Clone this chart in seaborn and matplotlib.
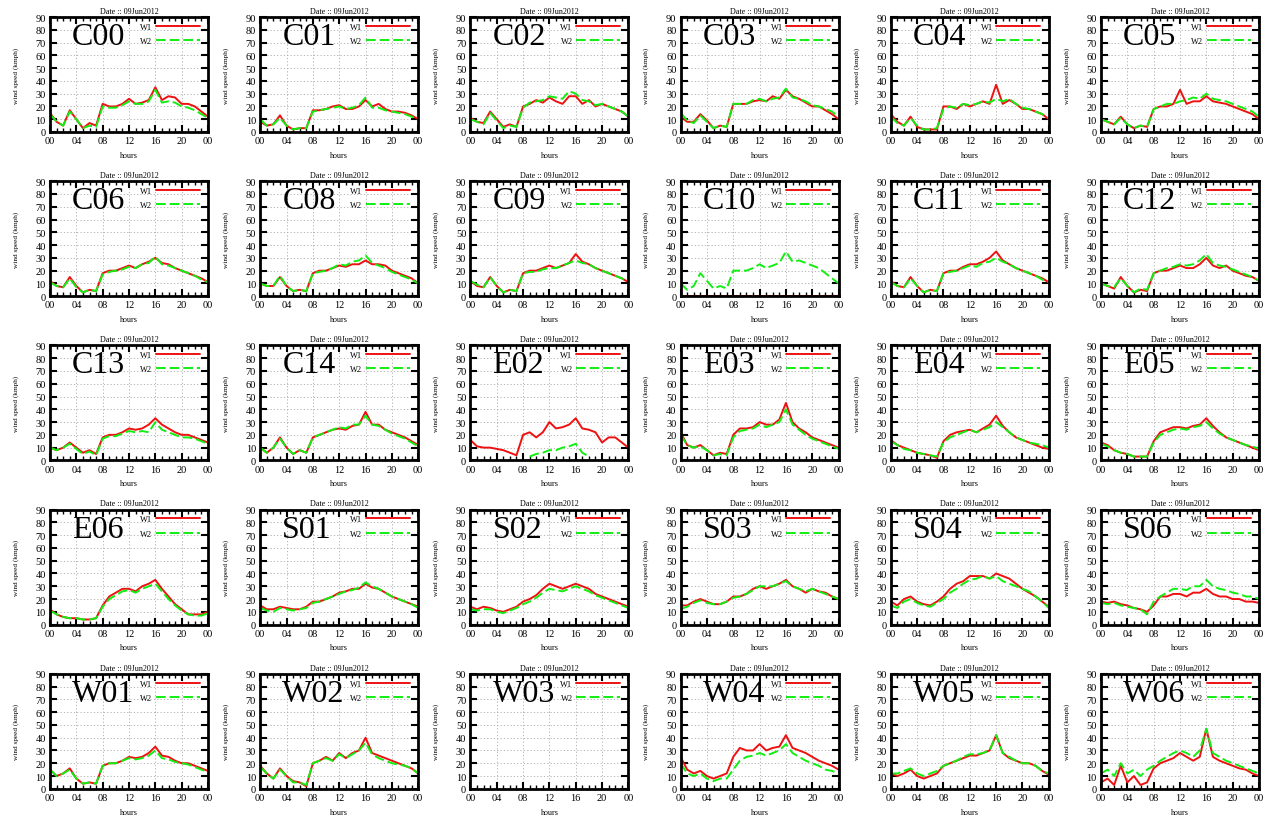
import numpy as np
import pandas as pd
import matplotlib
matplotlib.use("Agg")
import matplotlib.pyplot as plt
import seaborn as sns

hours = list(range(25))
xtick_pos = [0, 4, 8, 12, 16, 20, 24]
xtick_labels = ["00", "04", "08", "12", "16", "20", "00"]
ytick_pos = [0, 10, 20, 30, 40, 50, 60, 70, 80, 90]
date_title = "Date :: 09Jun2012"
stations = ["C00", "C01", "C02", "C03", "C04", "C05",
            "C06", "C08", "C09", "C10", "C11", "C12",
            "C13", "C14", "E02", "E03", "E04", "E05",
            "E06", "S01", "S02", "S03", "S04", "S06",
            "W01", "W02", "W03", "W04", "W05", "W06"]
nan = float("nan")

w1 = {
    "C00": [15, 8, 5, 17, 10, 3, 7, 5, 22, 20, 20, 22, 26, 22, 23, 25, 35, 25, 28, 27, 22, 22, 20, 16, 12],
    "C01": [8, 5, 6, 13, 5, 2, 3, 3, 17, 17, 18, 20, 21, 18, 18, 20, 25, 20, 22, 18, 16, 16, 15, 13, 10],
    "C02": [11, 8, 7, 16, 10, 4, 6, 4, 20, 22, 25, 23, 27, 24, 22, 28, 28, 22, 25, 20, 22, 20, 18, 16, 12],
    "C03": [12, 8, 8, 14, 9, 3, 5, 4, 22, 22, 22, 24, 25, 24, 28, 26, 33, 28, 26, 23, 20, 20, 17, 14, 10],
    "C04": [14, 8, 5, 12, 4, 2, 2, 2, 20, 20, 18, 22, 20, 22, 24, 22, 37, 22, 25, 22, 18, 18, 16, 14, 10],
    "C05": [10, 8, 6, 12, 6, 3, 5, 4, 18, 20, 20, 22, 33, 22, 24, 24, 28, 24, 23, 22, 20, 18, 16, 14, 10],
    "C06": [12, 8, 7, 15, 8, 3, 5, 4, 18, 20, 20, 22, 24, 22, 25, 27, 30, 26, 25, 22, 20, 18, 16, 14, 11],
    "C08": [10, 8, 8, 15, 8, 4, 5, 4, 18, 20, 20, 22, 24, 23, 25, 25, 28, 25, 25, 24, 20, 18, 16, 14, 10],
    "C09": [12, 8, 7, 15, 8, 3, 5, 4, 18, 20, 20, 22, 24, 22, 24, 26, 33, 27, 25, 22, 20, 18, 16, 14, 11],
    "C10": [0.5, 0.5, 0.5, 0.5, 0.5, 0.5, 0.5, 0.5, 0.5, 0.5, 0.5, 0.5, 0.5, 0.5, 0.5, 0.5, 0.5, 0.5, 0.5, 0.5, 0.5, 0.5, 0.5, 0.5, 0.5],
    "C11": [12, 8, 7, 15, 8, 3, 5, 4, 18, 20, 20, 23, 25, 25, 27, 30, 35, 28, 25, 22, 20, 18, 16, 14, 11],
    "C12": [10, 8, 6, 15, 8, 3, 5, 4, 18, 20, 20, 22, 24, 22, 22, 25, 30, 24, 22, 24, 20, 18, 16, 15, 12],
    "C13": [10, 8, 10, 14, 10, 6, 8, 5, 18, 20, 20, 22, 25, 24, 25, 28, 33, 28, 25, 22, 20, 20, 18, 16, 14],
    "C14": [10, 6, 10, 18, 10, 5, 8, 6, 18, 20, 22, 24, 25, 24, 27, 28, 38, 28, 28, 24, 22, 20, 18, 15, 12],
    "E02": [16, 11, 10, 10, 9, 8, 6, 4, 20, 22, 18, 22, 30, 25, 26, 28, 33, 25, 24, 22, 14, 18, 18, 14, 10],
    "E03": [22, 12, 10, 12, 8, 4, 6, 5, 20, 25, 25, 26, 30, 28, 28, 32, 45, 30, 25, 22, 18, 16, 14, 12, 10],
    "E04": [16, 12, 10, 8, 6, 5, 4, 2, 15, 20, 22, 23, 24, 22, 25, 28, 35, 27, 22, 18, 16, 14, 12, 10, 9],
    "E05": [14, 12, 8, 6, 5, 3, 3, 3, 15, 22, 24, 26, 26, 25, 27, 28, 33, 27, 22, 18, 16, 14, 12, 10, 8],
    "E06": [12, 8, 6, 5, 5, 4, 4, 5, 15, 22, 25, 28, 28, 26, 30, 32, 35, 28, 22, 16, 12, 8, 8, 8, 10],
    "S01": [15, 12, 12, 14, 13, 12, 12, 14, 18, 18, 20, 22, 25, 26, 28, 28, 32, 29, 28, 25, 22, 20, 18, 16, 14],
    "S02": [14, 12, 14, 13, 11, 10, 12, 14, 18, 20, 23, 28, 32, 30, 28, 30, 32, 30, 28, 24, 22, 20, 18, 16, 14],
    "S03": [15, 15, 18, 20, 18, 16, 16, 18, 22, 22, 24, 28, 30, 28, 30, 32, 35, 30, 28, 25, 28, 26, 25, 22, 20],
    "S04": [18, 15, 20, 22, 18, 16, 15, 18, 22, 28, 32, 34, 38, 38, 38, 36, 40, 38, 36, 32, 28, 25, 22, 18, 14],
    "S06": [18, 17, 18, 16, 15, 13, 12, 10, 15, 22, 22, 24, 24, 22, 25, 25, 28, 24, 22, 22, 20, 20, 18, 18, 17],
    "W01": [15, 10, 12, 16, 8, 4, 5, 4, 18, 20, 20, 22, 25, 24, 25, 28, 33, 26, 25, 22, 20, 20, 18, 16, 14],
    "W02": [18, 12, 8, 16, 10, 6, 5, 2, 20, 22, 25, 22, 28, 24, 28, 30, 40, 28, 26, 24, 22, 20, 18, 16, 12],
    "W03": [],
    "W04": [25, 15, 12, 14, 10, 8, 10, 12, 25, 32, 30, 30, 35, 30, 32, 33, 42, 32, 30, 28, 25, 22, 20, 18, 15],
    "W05": [12, 10, 12, 15, 10, 8, 10, 12, 18, 20, 22, 24, 26, 26, 28, 30, 42, 28, 24, 22, 20, 20, 18, 14, 11],
    "W06": [5, 8, 3, 18, 5, 10, 3, 5, 16, 20, 22, 24, 28, 25, 22, 25, 47, 25, 22, 20, 18, 16, 15, 12, 10],
}
w2 = {
    "C00": [14, 8, 5, 16, 10, 3, 5, 4, 20, 19, 19, 21, 24, 22, 22, 24, 33, 23, 24, 23, 20, 19, 17, 14, 11],
    "C01": [10, 5, 6, 11, 5, 2, 3, 3, 16, 17, 18, 19, 20, 18, 19, 21, 27, 19, 19, 17, 16, 15, 14, 12, 10],
    "C02": [10, 8, 6, 15, 9, 3, 5, 4, 19, 23, 24, 25, 28, 27, 26, 32, 30, 25, 24, 21, 22, 20, 18, 16, 12],
    "C03": [15, 9, 7, 13, 8, 3, 5, 4, 22, 22, 22, 25, 26, 24, 26, 27, 34, 27, 26, 24, 21, 20, 18, 16, 12],
    "C04": [12, 7, 5, 11, 5, 2, 2, 3, 18, 20, 19, 22, 21, 22, 24, 23, 26, 24, 26, 22, 19, 18, 16, 14, 11],
    "C05": [10, 8, 6, 11, 6, 3, 5, 4, 18, 20, 22, 22, 24, 25, 27, 26, 30, 26, 25, 24, 22, 20, 18, 16, 12],
    "C06": [11, 8, 7, 14, 7, 3, 5, 4, 17, 19, 20, 21, 23, 22, 25, 26, 31, 25, 24, 22, 20, 18, 16, 13, 11],
    "C08": [10, 8, 8, 16, 8, 4, 5, 4, 18, 19, 20, 22, 25, 24, 27, 28, 32, 26, 24, 22, 19, 17, 15, 13, 10],
    "C09": [12, 9, 7, 15, 8, 3, 5, 4, 18, 19, 19, 21, 22, 22, 24, 26, 28, 26, 25, 22, 20, 18, 16, 14, 11],
    "C10": [10, 5, 8, 18, 12, 6, 8, 6, 20, 20, 20, 22, 25, 22, 24, 26, 35, 27, 28, 26, 24, 22, 18, 14, 10],
    "C11": [11, 8, 7, 14, 8, 3, 5, 4, 18, 19, 20, 22, 24, 23, 26, 27, 30, 27, 25, 22, 20, 18, 16, 13, 11],
    "C12": [10, 8, 7, 14, 8, 3, 6, 5, 18, 20, 22, 23, 25, 24, 25, 28, 33, 26, 24, 23, 21, 19, 17, 15, 12],
    "C13": [10, 8, 10, 13, 9, 5, 7, 4, 17, 19, 19, 21, 23, 22, 23, 22, 30, 24, 22, 20, 18, 18, 17, 15, 13],
    "C14": [10, 6, 10, 17, 10, 5, 8, 6, 18, 20, 22, 24, 26, 25, 28, 28, 35, 28, 27, 24, 21, 19, 17, 14, 11],
    "E02": [nan, nan, nan, nan, nan, nan, nan, nan, nan, 3, 5, 6, 8, 8, 10, 11, 13, 6, 3, nan, nan, nan, nan, nan, nan],
    "E03": [20, 12, 10, 11, 8, 4, 5, 4, 18, 23, 24, 25, 28, 26, 28, 30, 40, 28, 24, 20, 17, 15, 13, 11, 9],
    "E04": [15, 12, 9, 8, 6, 5, 4, 3, 14, 18, 20, 22, 24, 22, 24, 26, 30, 26, 22, 18, 16, 14, 13, 12, 10],
    "E05": [13, 11, 8, 6, 5, 3, 3, 3, 14, 20, 22, 24, 25, 24, 26, 27, 30, 25, 21, 18, 16, 14, 12, 11, 9],
    "E06": [11, 8, 6, 5, 5, 4, 4, 5, 14, 20, 23, 26, 27, 25, 28, 30, 32, 26, 20, 15, 11, 8, 7, 7, 9],
    "S01": [13, 11, 10, 13, 12, 11, 12, 13, 17, 18, 20, 22, 24, 26, 27, 29, 33, 30, 28, 25, 22, 20, 18, 16, 13],
    "S02": [12, 11, 12, 12, 10, 9, 11, 13, 16, 18, 21, 25, 28, 27, 26, 28, 30, 28, 26, 23, 21, 19, 17, 15, 13],
    "S03": [12, 14, 17, 19, 17, 16, 16, 18, 21, 22, 24, 27, 30, 30, 30, 32, 34, 30, 28, 26, 28, 26, 24, 22, 20],
    "S04": [15, 13, 18, 20, 17, 15, 14, 17, 20, 25, 28, 32, 35, 36, 38, 36, 38, 34, 32, 30, 28, 26, 22, 18, 13],
    "S06": [17, 16, 17, 15, 14, 13, 12, 8, 18, 22, 25, 28, 28, 27, 30, 30, 35, 30, 28, 27, 25, 24, 22, 22, 20],
    "W01": [15, 10, 12, 15, 8, 4, 5, 4, 18, 20, 20, 22, 24, 23, 24, 26, 30, 24, 23, 21, 20, 19, 17, 15, 13],
    "W02": [17, 12, 8, 15, 10, 5, 5, 3, 20, 22, 24, 22, 27, 24, 27, 30, 36, 27, 24, 22, 20, 19, 18, 16, 12],
    "W03": [],
    "W04": [20, 12, 10, 12, 8, 6, 8, 8, 15, 22, 25, 26, 28, 26, 28, 30, 35, 28, 25, 22, 20, 18, 15, 14, 12],
    "W05": [12, 12, 14, 16, 12, 10, 12, 14, 18, 20, 22, 25, 27, 27, 28, 30, 42, 28, 25, 22, 20, 20, 18, 14, 12],
    "W06": [12, 15, 10, 20, 12, 15, 10, 15, 18, 22, 25, 28, 30, 28, 25, 30, 47, 28, 25, 22, 20, 18, 16, 14, 12],
}

sns.set_style("ticks")
plt.rcParams["font.family"] = ["Liberation Serif", "DejaVu Serif"]
plt.rcParams["text.color"] = "black"
plt.rcParams["axes.labelcolor"] = "black"
plt.rcParams["xtick.color"] = "black"
plt.rcParams["ytick.color"] = "black"

W, H = 1270, 820
fig = plt.figure(figsize=(W / 100, H / 100), dpi=100)
RED = "#ee1111"
GREEN = "#11ee11"
LW = 1.4

for i, st in enumerate(stations):
    r, c = divmod(i, 6)
    left = 50 + 210.2 * c
    top = 18 + 164.2 * r
    aw, ah = 158, 115
    ax = fig.add_axes([left / W, 1 - (top + ah) / H, aw / W, ah / H])
    ax.set_axisbelow(True)
    ax.grid(True, color="#aaaaaa", linestyle=(0, (1.5, 2.5)), linewidth=0.6)
    if len(w1[st]):
        d1 = pd.DataFrame({"hour": hours, "speed": w1[st]})
        sns.lineplot(data=d1, x="hour", y="speed", ax=ax, color=RED, linewidth=LW, label="W1", legend=False)
    else:
        ax.plot([], [], color=RED, linewidth=LW, label="W1")
    if len(w2[st]):
        d2 = pd.DataFrame({"hour": hours, "speed": w2[st]})
        sns.lineplot(data=d2, x="hour", y="speed", ax=ax, color=GREEN, linewidth=LW,
                     linestyle=(0, (5, 2)), label="W2", legend=False)
    else:
        ax.plot([], [], color=GREEN, linewidth=LW, linestyle=(0, (5, 2)), label="W2")
    ax.set_xlim(0, 24)
    ax.set_ylim(0, 90)
    ax.set_xticks(xtick_pos)
    ax.set_xticklabels(xtick_labels)
    ax.set_xticks(hours, minor=True)
    ax.set_yticks(ytick_pos)
    ax.tick_params(axis="both", which="major", direction="in", length=5, width=1.5,
                   top=True, right=True, labelsize=7.5, pad=3)
    ax.tick_params(axis="x", which="minor", direction="in", length=3, width=1.0, top=True)
    for sp in ax.spines.values():
        sp.set_visible(True)
        sp.set_linewidth(2.0)
        sp.set_color("black")
    ax.set_title(date_title, fontsize=5.8, pad=3)
    ax.set_xlabel("hours", fontsize=5.8, labelpad=4)
    ax.set_ylabel("wind speed (kmph)", fontsize=5.2, labelpad=12)
    ax.text(0.14, 0.83, st, transform=ax.transAxes, fontsize=23, va="center", ha="left",
            color="black")
    ax.legend(loc="upper left", bbox_to_anchor=(0.57, 0.95), fontsize=6, frameon=False,
              handlelength=5.3, handletextpad=0.4, labelspacing=0.75, borderaxespad=0,
              borderpad=0, markerfirst=False)

fig.savefig("out.png", dpi=100)
